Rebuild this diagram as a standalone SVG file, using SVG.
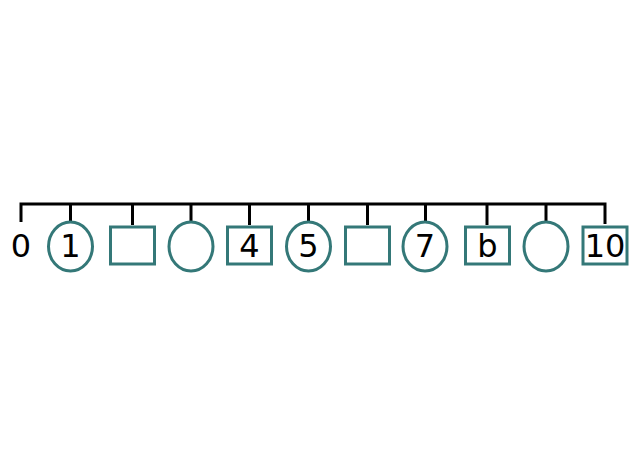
<svg xmlns="http://www.w3.org/2000/svg" width="640" height="471" viewBox="0 0 640 471">
<style>
.n{fill:#ffffff;stroke:#347878;stroke-width:3}
.c{stroke:#000000;stroke-width:3;fill:none}
.t{font-family:"DejaVu Sans",sans-serif;font-size:32px;fill:#000000;text-anchor:middle}
</style>
<rect width="640" height="471" fill="#ffffff"/>
<g id="connectors">
<polyline class="c" points="21,222 21,204 605,204 605,224"/>
<line class="c" x1="70.5" y1="204" x2="70.5" y2="222"/>
<line class="c" x1="132.5" y1="204" x2="132.5" y2="225"/>
<line class="c" x1="191" y1="204" x2="191" y2="222"/>
<line class="c" x1="249.5" y1="204" x2="249.5" y2="225"/>
<line class="c" x1="308.5" y1="204" x2="308.5" y2="222"/>
<line class="c" x1="367.5" y1="204" x2="367.5" y2="225"/>
<line class="c" x1="425.5" y1="204" x2="425.5" y2="222"/>
<line class="c" x1="487" y1="204" x2="487" y2="225"/>
<line class="c" x1="546" y1="204" x2="546" y2="222"/>
</g>
<g id="n0"><text class="t" x="21" y="257">0</text></g>
<g id="n1"><ellipse class="n" cx="70.5" cy="246.5" rx="22" ry="24.5"/><text class="t" x="70.5" y="257">1</text></g>
<g id="n2"><rect class="n" x="110.5" y="227" width="44" height="37"/></g>
<g id="n3"><ellipse class="n" cx="191" cy="246.5" rx="22" ry="24.5"/></g>
<g id="n4"><rect class="n" x="227.5" y="227" width="44" height="37"/><text class="t" x="249.5" y="257">4</text></g>
<g id="n5"><ellipse class="n" cx="308.5" cy="246.5" rx="22" ry="24.5"/><text class="t" x="308.5" y="257">5</text></g>
<g id="n6"><rect class="n" x="345.5" y="227" width="44" height="37"/></g>
<g id="n7"><ellipse class="n" cx="425" cy="246.5" rx="22" ry="24.5"/><text class="t" x="425" y="257">7</text></g>
<g id="n8"><rect class="n" x="465.5" y="227" width="44" height="37"/><text class="t" x="487.5" y="257">b</text></g>
<g id="n9"><ellipse class="n" cx="546" cy="246.5" rx="22" ry="24.5"/></g>
<g id="n10"><rect class="n" x="583" y="227" width="44" height="37"/><text class="t" x="605" y="257">10</text></g>
</svg>
